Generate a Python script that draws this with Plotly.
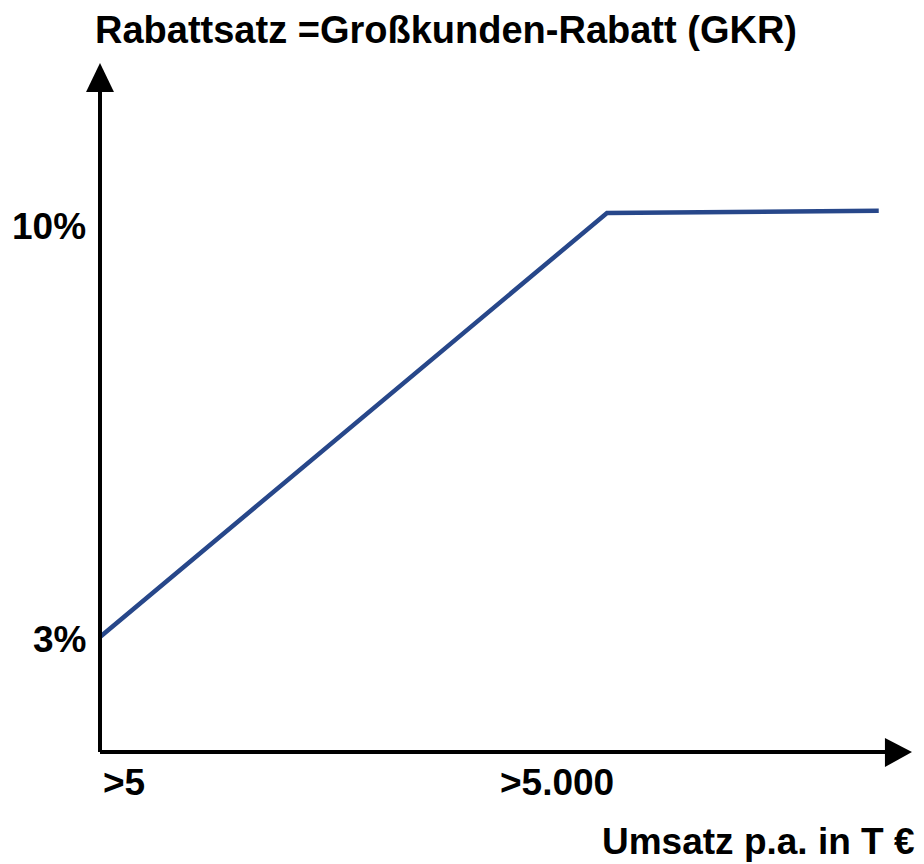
import plotly.graph_objects as go

# Data
umsatz_pos = [0, 1, 1.536]          # positions along the revenue axis (>5, >5.000, beyond)
rabatt = [3, 10, 10.035]            # discount rate in %
x_tick_vals = [0, 1]
x_tick_text = [">5", ">5.000"]
y_tick_vals = [3, 10]
y_tick_text = ["3%", "10%"]

title_text = "Rabattsatz =Großkunden-Rabatt (GKR)"
x_title_text = "Umsatz p.a. in T €"

FONT = "Liberation Sans, Arial, sans-serif"
LINE_COLOR = "#27478a"

# page body has an 8px margin; figure sized so it ends at the window edge
W, H = 916, 856
ml, mr, mt, mb = 92, 12, 55, 112
PW, PH = W - ml - mr, H - mt - mb


def px_x(x):  # figure px -> paper x
    return (x - ml) / PW


def px_y(y):  # figure px -> paper y
    return (H - mb - y) / PH


fig = go.Figure()
fig.add_trace(go.Scatter(
    x=umsatz_pos, y=rabatt, mode="lines",
    line=dict(color=LINE_COLOR, width=4.5),
    hoverinfo="skip", showlegend=False, cliponaxis=False,
))

fig.update_layout(
    width=W, height=H,
    margin=dict(l=ml, r=mr, t=mt, b=mb, pad=0),
    paper_bgcolor="white", plot_bgcolor="white",
    showlegend=False,
    xaxis=dict(range=[0, 1.6016], showgrid=False, zeroline=False,
               showline=False, showticklabels=False, ticks=""),
    yaxis=dict(range=[1.1014, 12.476], showgrid=False, zeroline=False,
               showline=False, showticklabels=False, ticks=""),
    font=dict(family=FONT, size=37, color="black"),
)

# Axis lines with arrowheads (decoration)
fig.add_shape(type="line", xref="paper", yref="paper", x0=0, y0=0, x1=0.975, y1=0,
              line=dict(color="black", width=4))
fig.add_shape(type="line", xref="paper", yref="paper", x0=0, y0=0, x1=0, y1=0.97,
              line=dict(color="black", width=4))
fig.add_shape(type="path", xref="paper", yref="paper",
              path="M 0.9667 0.0203 L 1.0 0 L 0.9667 -0.0218 Z",
              fillcolor="black", line=dict(color="black", width=0))
fig.add_shape(type="path", xref="paper", yref="paper",
              path="M -0.0172 0.958 L 0 1.0 L 0.0172 0.958 Z",
              fillcolor="black", line=dict(color="black", width=0))

# Tick labels
y_shift = {"3%": -2, "10%": -14}
for v, t in zip(y_tick_vals, y_tick_text):
    fig.add_annotation(x=0, y=v, xref="paper", yref="y", text=f"<b>{t}</b>",
                       showarrow=False, xanchor="right", yanchor="middle",
                       xshift=-12, yshift=y_shift[t],
                       font=dict(family=FONT, size=37, color="black"))
x_shift = {">5": 24, ">5.000": -50}
for v, t in zip(x_tick_vals, x_tick_text):
    fig.add_annotation(x=v, y=0, xref="x", yref="paper", text=f"<b>{t}</b>",
                       showarrow=False, xanchor="center", yanchor="top",
                       xshift=x_shift[t], yshift=-8,
                       font=dict(family=FONT, size=37, color="black"))

# Titles
fig.add_annotation(x=px_x(86), y=px_y(0), xref="paper", yref="paper",
                   xanchor="left", yanchor="top", borderpad=0,
                   text=f"<b>{title_text}</b>", showarrow=False,
                   font=dict(family=FONT, size=38, color="black"))
fig.add_annotation(x=px_x(593), y=px_y(812), xref="paper", yref="paper",
                   xanchor="left", yanchor="top", borderpad=0,
                   text=f"<b>{x_title_text}</b>", showarrow=False,
                   font=dict(family=FONT, size=37, color="black"))

fig.write_html("out.html")
